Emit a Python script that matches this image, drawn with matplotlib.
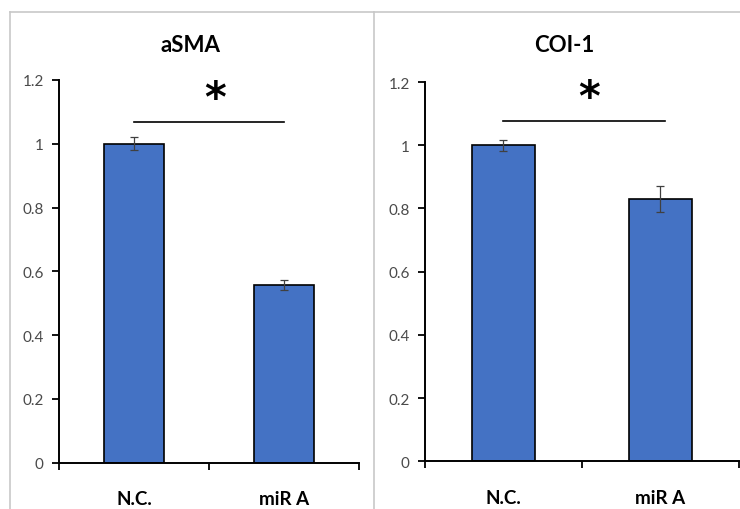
import numpy as np
import matplotlib.pyplot as plt
from matplotlib.lines import Line2D

groups = ['N.C.', 'miR A']
titles = ['aSMA', 'COI-1']
asma = [1.0, 0.557]
asma_err = [0.02, 0.017]
coi = [1.0, 0.83]
coi_err = [0.018, 0.04]
yticks = [0, 0.2, 0.4, 0.6, 0.8, 1.0, 1.2]
ytick_labels = ['0', '0.2', '0.4', '0.6', '0.8', '1', '1.2']

plt.rcParams['font.family'] = ['Lato', 'DejaVu Sans']

fig = plt.figure(figsize=(7.4, 5.1), dpi=100)

# panel frames (Excel chart area borders)
frame_col = '#c8c8c8'
for seg in [([10, 10], [13, 510]), ([10, 373], [13, 13]), ([374, 374], [13, 510]),
            ([374, 740], [13, 13])]:
    xs = [v / 740 for v in seg[0]]
    ys = [1 - v / 510 for v in seg[1]]
    fig.add_artist(Line2D(xs, ys, color=frame_col, lw=1.2))

axes_pos = [[0.0797, 0.0908, 0.4054, 0.7504], [0.5743, 0.0935, 0.4243, 0.7437]]
title_pos = [(191 / 740, 1 - 45 / 510), (564 / 740, 1 - 45 / 510)]
data = [(asma, asma_err), (coi, coi_err)]
sig = [(0.0, 1.0, 1.068, 0.54, 1.14), (0.0, 1.03, 1.077, 0.545, 1.15)]

x = np.arange(len(groups))
for i in range(2):
    ax = fig.add_axes(axes_pos[i])
    vals, errs = data[i]
    ax.bar(x, vals, 0.4, color='#4472C4', edgecolor='black', linewidth=1.2, zorder=2)
    ax.errorbar(x, vals, yerr=errs, fmt='none', ecolor='#404040', elinewidth=0.9,
                capsize=3, capthick=0.9, zorder=3)
    ax.set_xlim(-0.5, 1.5)
    ax.set_ylim(0, 1.2)
    ax.set_yticks(yticks)
    ax.set_yticklabels(ytick_labels, fontsize=11, color='#4a4a4a')
    ax.set_xticks(x)
    ax.set_xticklabels(groups, fontsize=13.5, fontweight='bold', color='black')
    ax.set_xticks([-0.5, 0.5, 1.5], minor=True)
    ax.tick_params(axis='x', which='major', length=0, pad=20)
    ax.tick_params(axis='x', which='minor', length=5, width=1.3, direction='out')
    ax.tick_params(axis='y', length=5, width=1.3, direction='out', pad=6)
    for s in ['top', 'right']:
        ax.spines[s].set_visible(False)
    for s in ['left', 'bottom']:
        ax.spines[s].set_linewidth(1.4)
    ax.patch.set_alpha(0)

    x0, x1, yl, xs, ys = sig[i]
    ax.plot([x0, x1], [yl, yl], color='black', lw=1.2, clip_on=False)
    ax.text(xs, ys, '*', fontsize=30, fontweight='bold', ha='center', va='center',
            clip_on=False, family='DejaVu Sans')

    fig.text(title_pos[i][0], title_pos[i][1], titles[i], fontsize=16, fontweight='bold',
             ha='center', va='center')

fig.savefig('out.png', dpi=100)
